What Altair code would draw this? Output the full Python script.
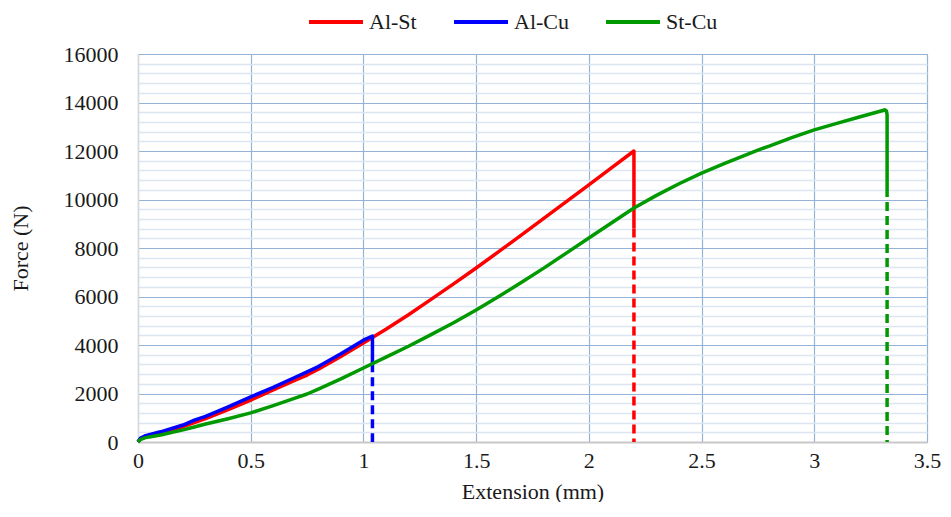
import altair as alt
import pandas as pd

FONT = "Liberation Serif"
TEXT = "#1a1a1a"
FS = 22

series_names = ["Al-St", "Al-Cu", "St-Cu"]
series_colors = ["#FF0000", "#0000FF", "#009900"]

# Al-St (solid part, including the vertical drop)
alst_x = [0, 0.01, 0.03, 0.05, 0.1, 0.2, 0.25, 0.3, 0.4, 0.5, 0.6, 0.7, 0.75, 0.8, 0.9,
          1.0, 1.1, 1.2, 1.3, 1.4, 1.5, 1.6, 1.7, 1.8, 1.9, 2.0, 2.1, 2.2, 2.2]
alst_y = [0, 120, 220, 280, 380, 630, 800, 960, 1330, 1730, 2150, 2560, 2760, 3000, 3530,
          4080, 4650, 5250, 5880, 6520, 7175, 7850, 8530, 9220, 9910, 10600, 11300, 12000, 8800]

# Al-Cu
alcu_x = [0, 0.01, 0.03, 0.05, 0.1, 0.2, 0.25, 0.3, 0.4, 0.5, 0.6, 0.7, 0.75, 0.8, 0.9,
          1.0, 1.04, 1.04]
alcu_y = [0, 150, 250, 300, 420, 700, 900, 1060, 1450, 1860, 2250, 2680, 2890, 3110, 3640,
          4200, 4370, 3250]

# St-Cu
stcu_x = [0, 0.01, 0.03, 0.05, 0.1, 0.2, 0.25, 0.3, 0.4, 0.5, 0.6, 0.7, 0.75, 0.8, 0.9,
          1.0, 1.1, 1.2, 1.3, 1.4, 1.5, 1.6, 1.7, 1.8, 1.9, 2.0, 2.1, 2.2, 2.3, 2.4,
          2.5, 2.6, 2.7, 2.75, 2.8, 2.9, 3.0, 3.1, 3.2, 3.3, 3.312, 3.32, 3.323, 3.323]
stcu_y = [0, 100, 170, 210, 290, 500, 620, 740, 960, 1200, 1500, 1820, 1980, 2180, 2600,
          3050, 3500, 3950, 4430, 4920, 5440, 6000, 6580, 7170, 7790, 8410, 9030, 9650, 10170, 10650,
          11090, 11480, 11850, 12040, 12200, 12550, 12870, 13140, 13400, 13660, 13700, 13650, 13500, 10470]

# dashed continuation of each drop down to zero
drop_x = [2.2, 1.04, 3.323]
drop_top = [8800, 3250, 10470]
drop_bottom = [0, 0, 0]

xs = [alst_x, alcu_x, stcu_x]
ys = [alst_y, alcu_y, stcu_y]

rows = []
for name, sx, sy in zip(series_names, xs, ys):
    for i, (a, b) in enumerate(zip(sx, sy)):
        rows.append({"series": name, "part": "solid", "idx": i, "x": a, "y": b})
for name, dx, t, b in zip(series_names, drop_x, drop_top, drop_bottom):
    rows.append({"series": name, "part": "dash", "idx": 0, "x": dx, "y": t})
    rows.append({"series": name, "part": "dash", "idx": 1, "x": dx, "y": b})
df = pd.DataFrame(rows)

x_ticks = [0, 0.5, 1, 1.5, 2, 2.5, 3, 3.5]
y_ticks = list(range(0, 16001, 400))

xenc = alt.X("x:Q", scale=alt.Scale(domain=[0, 3.5], nice=False),
             axis=alt.Axis(values=x_ticks, format="~g", title="Extension (mm)",
                           grid=True, gridColor="#95B3D7", gridWidth=1.2,
                           domainColor="#C8C8C8", domainWidth=2, ticks=False, tickSize=0,
                           labelFlush=False,
                           labelPadding=8, labelFontSize=FS, labelFont=FONT, labelColor=TEXT,
                           titleFontSize=FS, titleFont=FONT, titleColor=TEXT,
                           titleFontWeight="normal", titlePadding=10))
yenc = alt.Y("y:Q", scale=alt.Scale(domain=[0, 16000], nice=False),
             axis=alt.Axis(values=y_ticks, format="d", title="Force (N)",
                           labelExpr="datum.value % 2000 === 0 ? datum.label : ''",
                           grid=True,
                           gridColor={"condition": {"test": "datum.value % 2000 === 0", "value": "#95B3D7"},
                                      "value": "#DCE6F2"},
                           gridWidth={"condition": {"test": "datum.value % 2000 === 0", "value": 1.2},
                                      "value": 1.5},
                           domainColor="#D9D9D9", domainWidth=1.5, ticks=False, tickSize=0,
                           labelFlush=False,
                           labelPadding=20, labelFontSize=FS, labelFont=FONT, labelColor=TEXT,
                           titleFontSize=FS, titleFont=FONT, titleColor=TEXT,
                           titleFontWeight="normal", titlePadding=31))

legend = alt.Legend(title=None, orient="none", legendX=169, legendY=-61, direction="horizontal",
                    symbolType="stroke", symbolSize=2916, symbolStrokeWidth=4,
                    labelFontSize=FS, labelFont=FONT, labelColor=TEXT,
                    columnPadding=29, labelOffset=4)
cscale = alt.Scale(domain=series_names, range=series_colors)

base = alt.Chart(df)
layers = []
for name, col in zip(series_names, series_colors):
    solid = base.transform_filter(
        (alt.datum.series == name) & (alt.datum.part == "solid")
    ).mark_line(strokeWidth=3.5, strokeJoin="round").encode(
        x=xenc, y=yenc, order="idx:Q",
        color=alt.Color("series:N", scale=cscale, legend=legend),
    )
    dash = base.transform_filter(
        (alt.datum.series == name) & (alt.datum.part == "dash")
    ).mark_line(strokeWidth=3.5, color=col, strokeDash=[9, 5]).encode(
        x=xenc, y=yenc, order="idx:Q",
    )
    layers += [solid, dash]

chart = alt.layer(*layers).properties(
    width=789, height=388,
    autosize=alt.AutoSizeParams(type="none"),
    padding={"left": 130, "top": 46, "right": 16, "bottom": 60},
).configure_view(stroke=None).configure(background="white")

chart.save("out.html", embed_options={"renderer": "svg", "actions": False})
